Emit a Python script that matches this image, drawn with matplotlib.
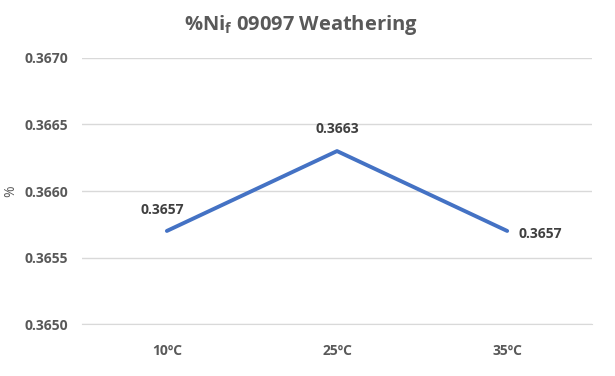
import matplotlib.pyplot as plt

categories = ['10ºC', '25ºC', '35ºC']
values = [0.3657, 0.3663, 0.3657]
yticks = [0.3650, 0.3655, 0.3660, 0.3665, 0.3670]

plt.rcParams['font.family'] = ['Open Sans', 'DejaVu Sans']
plt.rcParams['mathtext.default'] = 'regular'

fig = plt.figure(figsize=(6.15, 3.76), dpi=100)
ax = fig.add_axes([0.133, 0.138, 0.830, 0.708])

x = list(range(len(categories)))
ax.plot(x, values, color='#4472C4', linewidth=2.8, solid_capstyle='round', zorder=3)

ax.set_xlim(-0.5, len(categories) - 0.5)
ax.set_ylim(yticks[0], yticks[-1])
ax.set_yticks(yticks)
ax.set_yticklabels([f"{v:.4f}" for v in yticks])
ax.set_xticks(x)
ax.set_xticklabels(categories)

ax.grid(axis='y', color='#D9D9D9', linewidth=1.0, zorder=0)
for s in ax.spines.values():
    s.set_visible(False)
ax.spines['bottom'].set_visible(True)
ax.spines['bottom'].set_color('#D9D9D9')
ax.tick_params(length=0, colors='#595959', labelsize=10, pad=14)
for lab in ax.get_xticklabels() + ax.get_yticklabels():
    lab.set_fontweight('bold')
ax.tick_params(axis='y', pad=10)

ax.set_ylabel('%', color='#595959', fontsize=10, va='center')
ax.yaxis.set_label_coords(-0.139, 0.5)

# data labels
offsets = [(-3, 15, 'center'), (0, 16, 'center'), (8, -2, 'left')]
for xi, v, (dx, dy, ha) in zip(x, values, offsets):
    ax.annotate(f"{v:.4f}", (xi, v), xytext=(dx, dy), textcoords='offset points',
                ha=ha, va='center', fontsize=10, fontweight='bold', color='#404040')

fig.suptitle('%Ni$_f$ 09097 Weathering', x=0.49, y=0.965, fontsize=14.5,
             fontweight='bold', color='#595959')

fig.savefig('out.png', dpi=100)
